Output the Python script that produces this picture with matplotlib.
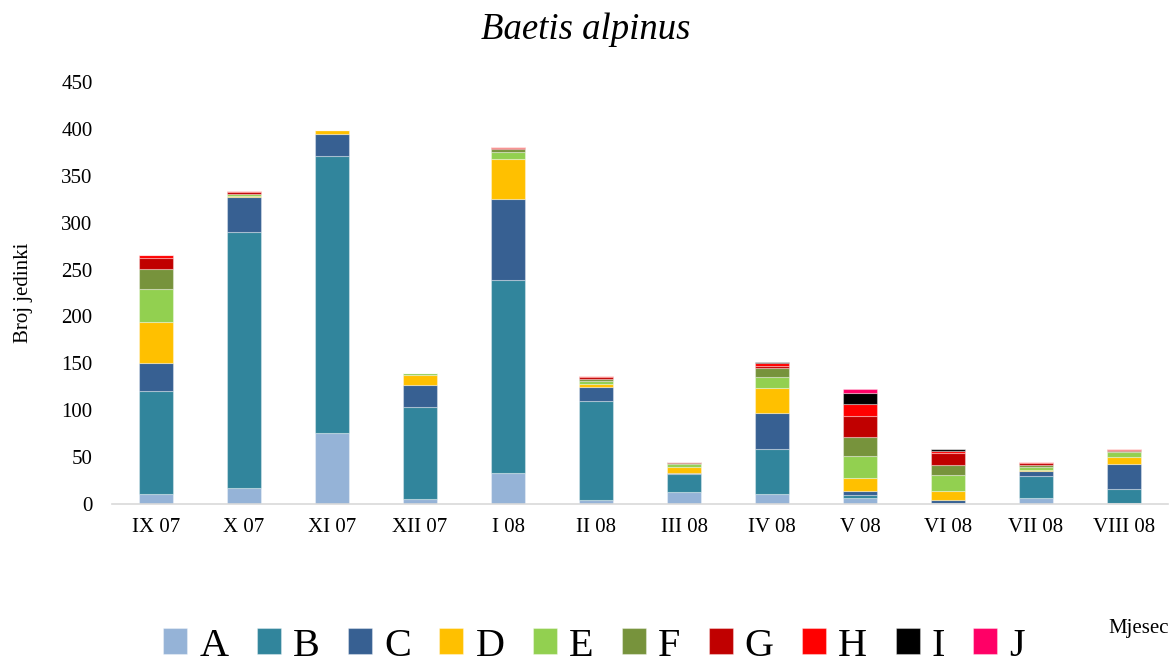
import numpy as np
import matplotlib
matplotlib.use("Agg")
import matplotlib.pyplot as plt

plt.rcParams['font.family'] = ['Liberation Serif', 'DejaVu Serif']

mjeseci = ["IX 07", "X 07", "XI 07", "XII 07", "I 08", "II 08", "III 08",
           "IV 08", "V 08", "VI 08", "VII 08", "VIII 08"]

A = [11, 17, 76, 5, 33, 4, 13, 11, 6, 0.5, 6, 1]
B = [109, 273, 295, 98, 206, 106, 19, 48, 4, 1, 24, 15]
C = [30, 37, 23, 24, 86, 15, 1, 38, 3.5, 2.5, 5, 27]
D = [44, 1, 5, 11, 43, 3, 7, 27, 14, 10, 1, 7]
E = [35, 2, 0, 1.5, 7, 3, 3, 11, 24, 17, 3, 5]
F = [22, 1, 0, 0, 3, 2.5, 0.5, 10, 20, 11, 3, 1.5]
G = [11, 2, 0, 0, 2, 2, 1, 2, 22, 12, 2, 1.5]
H = [3, 1, 0, 0, 1, 1, 0.5, 3, 13, 2, 0.5, 0.5]
I = [1, 0, 0, 0, 0, 0, 0, 1, 12, 3, 0, 0.5]
J = [0, 0, 0, 0, 0, 0, 0, 0, 4, 0, 0, 0]

serije = {"A": A, "B": B, "C": C, "D": D, "E": E, "F": F, "G": G, "H": H, "I": I, "J": J}
boje = ["#95B3D7", "#31859C", "#376092", "#FFC000", "#92D050",
        "#77933C", "#C00000", "#FF0000", "#000000", "#FF0066"]

fig = plt.figure(figsize=(11.72, 6.66), dpi=100)
ax = fig.add_axes([0.0956, 0.2432, 0.901, 0.6338])

x = np.arange(len(mjeseci))
dno = np.zeros(len(mjeseci))
for (ime, vrijednosti), boja in zip(serije.items(), boje):
    v = np.array(vrijednosti, dtype=float)
    ax.bar(x, v, width=0.39, bottom=dno, color=boja, label=ime,
           edgecolor=(1, 1, 1, 0.35), linewidth=0.8)
    dno += v

ax.set_xlim(-0.5, len(mjeseci) - 0.5)
ax.set_ylim(0, 450)
ax.set_yticks(range(0, 451, 50))
ax.set_xticks(x)
ax.set_xticklabels(mjeseci)
ax.tick_params(axis="both", length=0, labelsize=15)
ax.tick_params(axis="x", pad=10)
ax.tick_params(axis="y", pad=14)
for s in ["top", "right", "left"]:
    ax.spines[s].set_visible(False)
ax.spines["bottom"].set_color("#D9D9D9")
ax.spines["bottom"].set_linewidth(1.2)

ax.set_ylabel("Broj jedinki", fontsize=15, labelpad=20)
fig.text(0.5, 1 - 30 / 666, "Baetis alpinus", ha="center", va="center",
         fontsize=26.5, style="italic")
fig.text(0.997, 1 - 628 / 666, "Mjesec", ha="right", va="center", fontsize=15)

fig.legend(loc="center", bbox_to_anchor=(0.507, 1 - 646 / 666), ncol=10,
           frameon=False, fontsize=29, handlelength=0.6, handleheight=0.62,
           handletextpad=0.3, columnspacing=0.7, borderaxespad=0, borderpad=0)

fig.savefig("out.png", dpi=100)
